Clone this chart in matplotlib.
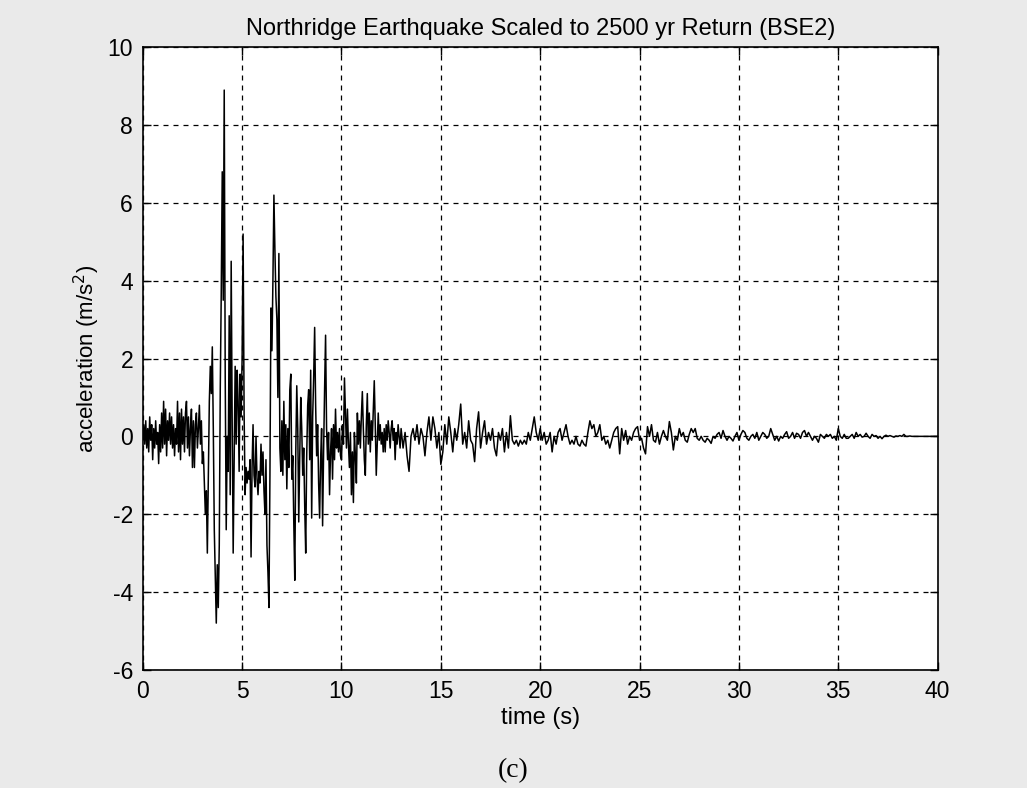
import numpy as np
import matplotlib
matplotlib.use('Agg')
from matplotlib import pyplot as plt

# ground acceleration, 0 - 12.95 s sampled every 0.05 s (m/s^2)
acc_strong = [
    0.0, 0.3, -0.2, 0.4, -0.3, 0.2, -0.4, 0.5, -0.1, 0.3,
    -0.6, 0.2, -0.3, 0.4, -0.2, 0.1, -0.7, 0.3, -0.4, 0.6,
    -0.3, 0.9, -0.2, 0.7, -0.5, 0.4, -0.1, 0.6, -0.2, 0.5,
    -0.3, 0.3, -0.5, 0.2, -0.2, 0.9, -0.4, 0.6, -0.6, 0.7,
    -0.2, 0.5, -0.4, 0.6, 0.9, -0.3, 0.5, -0.5, 0.2, 0.7,
    -0.8, 0.4, -0.8, 0.3, 0.6, -0.3, 0.2, 0.8, -0.2, 0.4,
    # 3.0 s
    -0.7, -0.4, -1.2, -2.0, -1.4, -3.0, -1.0, 0.9, 1.8, 1.1,
    2.3, 0.2, -2.4, -3.6, -4.8, -3.3, -4.4, -2.8, 1.2, 3.7,
    # 4.0 s
    6.8, 3.5, 8.9, 1.5, -2.4, 0.0, -0.9, 3.1, -1.5, 4.5,
    0.4, -3.0, -0.5, 1.8, -0.2, 1.7, 0.9, -0.9, 1.6, 0.5,
    # 5.0 s
    2.0, 5.2, 0.6, -1.5, -0.8, -1.2, -0.9, -1.1, -0.6, -3.1,
    -0.8, 0.3, -1.0, -1.3, 0.0, -1.1, -1.5, -0.9, -1.2, -0.2,
    # 6.0 s
    -1.0, -0.4, -1.4, -2.0, -0.6, -2.8, -3.5, -4.4, -1.0, 3.3,
    2.2, 4.0, 6.2, 4.8, 3.6, 3.0, 1.0, 4.7, -0.3, -0.9,
    # 7.0 s
    0.4, -1.0, 0.9, -0.6, 0.3, -1.35, 0.2, -0.8, 1.2, 1.6,
    -1.1, -0.5, -2.2, -3.7, -0.4, 1.3, 0.2, -2.2, -0.5, 1.0,
    # 8.0 s
    0.2, -1.0, -0.3, -1.8, -3.0, -0.5, 0.8, 1.2, -0.6, 1.7,
    -2.1, 0.5, 1.5, 2.8, 0.8, -0.5, 0.3, -1.2, -2.1, -0.6,
    # 9.0 s
    0.2, -2.3, -0.4, 1.2, 2.6, 0.2, -0.6, 0.1, -1.5, -0.4,
    0.2, -1.1, 0.3, -0.6, 0.7, -0.3, 0.1, -0.4, 0.2, -0.5,
    # 10.0 s
    -0.6, 0.3, -0.2, 1.5, 0.6, -0.3, 0.7, -0.2, -0.8, 0.1,
    -1.5, -0.4, -1.7, 0.1, -0.5, -1.2, 0.6, -0.2, 0.4, -0.3,
    # 11.0 s
    0.5, 1.15, 0.2, -0.6, -1.0, 0.3, 1.1, -0.2, 0.6, -0.4,
    0.4, -0.1, 0.7, 1.43, 0.3, -1.0, -0.2, 0.6, -0.1, 0.3,
    # 12.0 s
    -0.2, 0.1, -0.4, 0.2, -0.4, 0.3, -0.1, 0.4, 0.1, -0.3,
    0.2, 0.4, -0.1, 0.2, -0.6, 0.1, -0.2, 0.3, 0.0, -0.3,
]

# 13.0 - 40.0 s sampled every 0.1 s
acc_coda = [
    0.2, -0.3, 0.1, -0.5, -0.9, 0.0, 0.2, -0.1, 0.3, -0.2,
    0.2, 0.0, -0.5, 0.1, 0.5, -0.1, 0.5, 0.2, -0.3, 0.1,
    -0.72, -0.4, 0.3, -0.2, 0.5, 0.1, -0.4, 0.2, -0.1, 0.3,
    0.83, -0.2, 0.1, -0.3, 0.4, -0.1, -0.2, -0.65, 0.2, 0.63,
    -0.3, 0.1, 0.4, -0.2, 0.1, -0.1, 0.2, -0.3, -0.5, 0.1,
    -0.1, 0.2, -0.4, 0.1, -0.3, 0.53, -0.1, -0.2, -0.1, -0.25,
    -0.1, -0.2, -0.1, -0.2, 0.1, -0.1, 0.2, 0.5, 0.1, -0.1,
    # 20 s
    0.2, -0.1, 0.1, -0.2, -0.1, 0.1, -0.4, 0.0, -0.2, 0.1,
    0.2, -0.1, 0.1, 0.3, 0.0, -0.2, -0.1, -0.2, 0.0, -0.2,
    -0.25, -0.1, -0.2, -0.25, 0.1, 0.4, 0.2, 0.3, 0.0, 0.1,
    0.3, -0.1, 0.0, -0.2, -0.1, -0.3, -0.1, 0.1, 0.2, 0.25,
    -0.45, 0.2, -0.1, 0.15, -0.2, 0.0, -0.1, 0.1, 0.2, 0.25,
    -0.1, -0.05, -0.3, -0.45, 0.25, 0.0, 0.3, -0.1, -0.15, 0.1,
    -0.2, 0.0, 0.15, 0.0, -0.1, 0.38, 0.1, -0.35, 0.0, -0.1,
    0.2, 0.0, 0.1, -0.1, -0.15, 0.05, 0.2, 0.1, 0.2, -0.05,
    -0.1, 0.0, -0.1, -0.15, -0.05, -0.1, -0.18, 0.0, -0.05, 0.05,
    0.1, -0.05, 0.15, 0.0, -0.1, 0.0, -0.05, -0.12, 0.0, 0.1,
    # 30 s
    -0.1, 0.05, 0.15, 0.1, -0.05, -0.1, 0.0, 0.05, -0.05, 0.1,
    -0.1, 0.0, 0.1, 0.05, -0.05, 0.0, 0.2, 0.05, -0.1, 0.0,
    -0.12, 0.0, -0.05, 0.05, 0.12, -0.05, 0.0, 0.1, -0.05, 0.08,
    0.05, -0.05, 0.1, 0.15, 0.0, 0.1, 0.0, -0.1, 0.0, -0.05,
    -0.15, 0.05, 0.0, -0.05, 0.05, 0.0, 0.05, -0.05, 0.0, -0.1,
    0.2, 0.0, -0.05, 0.05, -0.05, -0.05, 0.0, 0.05, -0.05, 0.1,
    0.0, 0.05, -0.02, 0.0, 0.08, 0.0, -0.05, 0.05, 0.0, 0.02,
    -0.05, 0.0, -0.06, 0.0, 0.03, 0.0, 0.02, 0.0, -0.02, 0.01,
    0.0, 0.02, 0.0, 0.05, 0.0, 0.0, 0.01, 0.0, 0.0, 0.0,
    0.0, 0.0, 0.0, 0.0, 0.0, 0.0, 0.0, 0.0, 0.0, 0.0,
    0.0,
]

x_ticks = [0, 5, 10, 15, 20, 25, 30, 35, 40]
y_ticks = [-6, -4, -2, 0, 2, 4, 6, 8, 10]

t = np.concatenate([np.arange(len(acc_strong)) * 0.05,
                    13.0 + np.arange(len(acc_coda)) * 0.1])
acc = np.array(acc_strong + acc_coda)

plt.rcParams['font.family'] = ['Liberation Sans', 'DejaVu Sans']
plt.rcParams['axes.unicode_minus'] = False

fig = plt.figure(figsize=(10.27, 7.88), dpi=100, facecolor='#eaeaea')
ax = fig.add_axes([0.139, 0.150, 0.774, 0.790])
ax.set_facecolor('white')

ax.plot(t, acc, color='black', linewidth=1.1)

ax.set_xlim(0, 40)
ax.set_ylim(-6, 10)
ax.set_xticks(x_ticks)
ax.set_yticks(y_ticks)
ax.grid(True, color='black', linestyle=(0, (4, 4)), linewidth=0.9)
ax.tick_params(direction='in', top=True, right=True, length=6, width=1,
               labelsize=16.5, pad=7)
for s in ax.spines.values():
    s.set_linewidth(1.2)

ax.set_title('Northridge Earthquake Scaled to 2500 yr Return (BSE2)', fontsize=17, pad=9)
ax.set_xlabel('time (s)', fontsize=17, labelpad=3)
ax.set_ylabel('acceleration (m/s$^2$)', fontsize=16, labelpad=4)

fig.text(0.5, 0.022, '(c)', family='Liberation Serif', fontsize=20, ha='center', va='center')

plt.savefig('out.png', dpi=100, facecolor=fig.get_facecolor())
